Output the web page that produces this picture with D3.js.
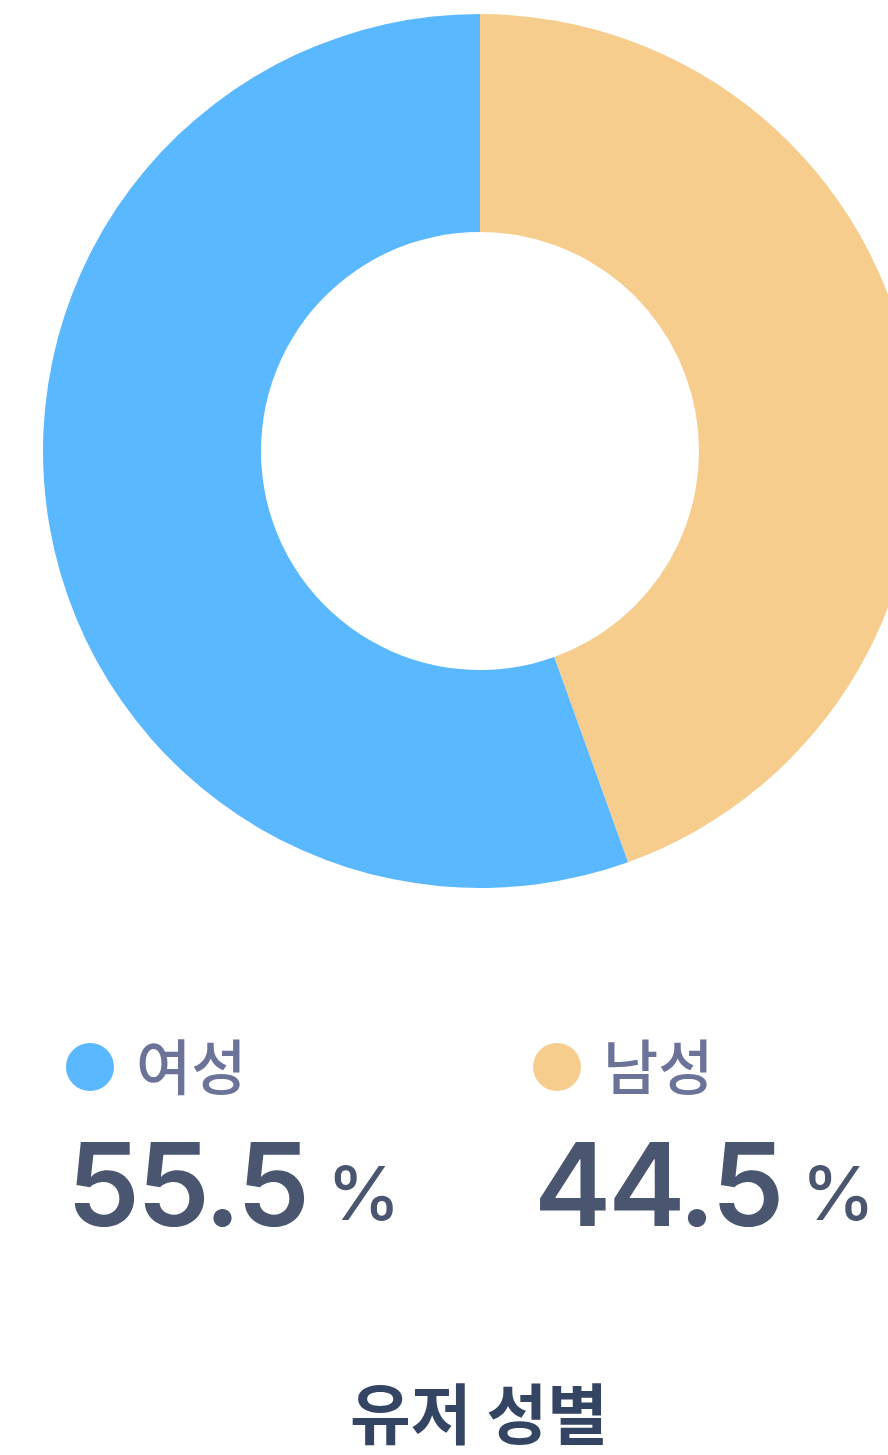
<!DOCTYPE html>
<html>
<head>
<meta charset="utf-8">
<script src="https://cdn.jsdelivr.net/npm/d3@7"></script>
<style>
  html, body { margin: 0; padding: 0; background: #fff; overflow: hidden; }
  svg { display: block; }
</style>
</head>
<body>
<svg id="chart"></svg>
<script>
const width = 888, height = 1455;

// data
const labels = ["남성", "여성"];
const values = [44.5, 55.5];
const colors = ["#F7CD8E", "#5AB8FF"];
const legendOrder = ["여성", "남성"];
const title = "유저 성별";

const data = labels.map((l, i) => ({ label: l, value: values[i], color: colors[i] }));

const svg = d3.select("#chart").attr("width", width).attr("height", height);

const cx = 480, cy = 451, outer = 437, inner = 219;

const pie = d3.pie().sort(null).value((d) => d.value);
const arc = d3.arc().innerRadius(inner).outerRadius(outer);

svg
  .append("g")
  .attr("transform", `translate(${cx},${cy})`)
  .selectAll("path")
  .data(pie(data))
  .enter()
  .append("path")
  .attr("d", arc)
  .attr("fill", (d) => d.data.color);

// legend
const legendX = d3.scalePoint().domain(legendOrder).range([66, 533]);

const items = svg
  .selectAll(".item")
  .data(legendOrder.map((l) => data.find((d) => d.label === l)))
  .enter()
  .append("g")
  .attr("transform", (d) => `translate(${legendX(d.label)},0)`);

items
  .append("circle")
  .attr("cx", 24)
  .attr("cy", 1067)
  .attr("r", 24)
  .attr("fill", (d) => d.color);

items
  .append("text")
  .attr("x", 70)
  .attr("y", 1090)
  .attr("font-family", "'Noto Sans CJK KR', sans-serif")
  .attr("font-size", "60px")
  .attr("font-weight", 500)
  .attr("fill", "#6B7399")
  .text((d) => d.label);

const num = items
  .append("text")
  .attr("x", 1)
  .attr("y", 1226)
  .attr("font-family", "Inter, sans-serif")
  .attr("fill", "#4A5670");

num
  .append("tspan")
  .attr("font-size", "116px")
  .attr("font-weight", 600)
  .attr("letter-spacing", "-3px")
  .text((d) => d3.format(".1f")(d.value));

num
  .append("tspan")
  .attr("dx", 20)
  .attr("dy", -6)
  .attr("font-size", "74px")
  .attr("font-weight", 500)
  .text("%");

svg
  .append("text")
  .attr("x", 479)
  .attr("y", 1439)
  .attr("text-anchor", "middle")
  .attr("font-family", "'Noto Sans CJK KR', sans-serif")
  .attr("font-size", "66px")
  .attr("font-weight", 700)
  .attr("fill", "#344563")
  .text(title);
</script>
</body>
</html>
